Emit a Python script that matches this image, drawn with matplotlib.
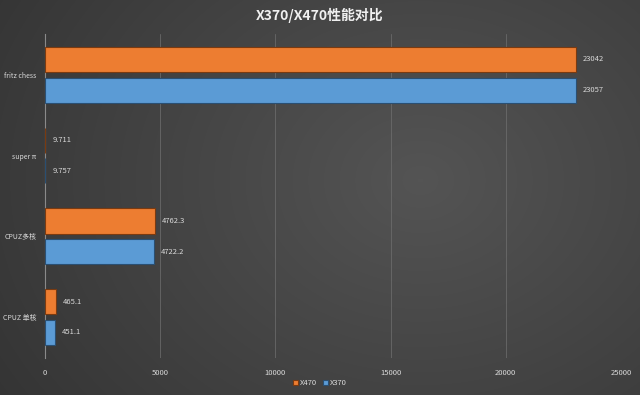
import numpy as np
import matplotlib
matplotlib.use("Agg")
import matplotlib.pyplot as plt

plt.rcParams['font.family'] = ['Noto Sans CJK SC', 'DejaVu Sans']

categories = ["fritz chess", "super π", "CPUZ多核", "CPUZ 单核"]
x470 = [23042, 9.711, 4762.3, 465.1]
x370 = [23057, 9.757, 4722.2, 451.1]
x470_labels = ["23042", "9.711", "4762.3", "465.1"]
x370_labels = ["23057", "9.757", "4722.2", "451.1"]
xticks = [0, 5000, 10000, 15000, 20000, 25000]

fig = plt.figure(figsize=(6.4, 3.95), dpi=100)

# background gradient
bg = fig.add_axes([0, 0, 1, 1], zorder=-10)
h, w = 395, 640
yy, xx = np.mgrid[0:h, 0:w]
d = np.sqrt(((xx - 420) / 520.0) ** 2 + ((yy - 180) / 420.0) ** 2)
val = 0.33 - 0.13 * np.clip(d, 0, 1.3)
img = np.dstack([val, val, val])
bg.imshow(img, aspect='auto', extent=[0, 1, 0, 1])
bg.axis('off')

ax = fig.add_axes([45 / 640, 1 - 357.5 / 395, (621 - 45) / 640, (357.5 - 34.4) / 395])
ax.set_facecolor('none')

y = np.arange(len(categories))
off = 0.19
bh = 0.31
ax.barh(y - off, x470, height=bh, color='#ed7d31', edgecolor='#7a3a10', linewidth=0.8, zorder=3, label='X470')
ax.barh(y + off, x370, height=bh, color='#5b9bd5', edgecolor='#2a4f72', linewidth=0.8, zorder=3, label='X370')

tc = '#d9d9d9'
for yi, v, s in zip(y - off, x470, x470_labels):
    ax.text(v + 300, yi, s, va='center', ha='left', fontsize=5.5, color=tc)
for yi, v, s in zip(y + off, x370, x370_labels):
    ax.text(v + 300, yi, s, va='center', ha='left', fontsize=5.5, color=tc)

ax.set_xlim(0, 25000)
ax.set_ylim(3.5, -0.5)
ax.set_xticks(xticks)
ax.set_xticklabels([str(t) for t in xticks], fontsize=5.5, color=tc)
ax.set_yticks(y)
ax.set_yticklabels(categories, fontsize=5, color=tc)
ax.tick_params(length=0, pad=8)
ax.tick_params(axis='y', pad=6)
ax.grid(axis='x', color='#707070', linewidth=0.5, zorder=0)
for sp in ['top', 'right', 'bottom']:
    ax.spines[sp].set_visible(False)
ax.spines['left'].set_color('#8a8a8a')
ax.spines['left'].set_linewidth(0.8)

fig.text(0.5, 1 - 15 / 395, "X370/X470性能对比", ha='center', va='center',
         fontsize=10, fontweight='bold', color='#f0f0f0')

leg = fig.legend(loc='center', bbox_to_anchor=(0.5, 1 - 383 / 395), ncol=2, frameon=False,
                 fontsize=5.5, handlelength=0.6, handleheight=0.6, handletextpad=0.3,
                 columnspacing=0.8, labelcolor=tc)

fig.savefig("out.png", dpi=100)
